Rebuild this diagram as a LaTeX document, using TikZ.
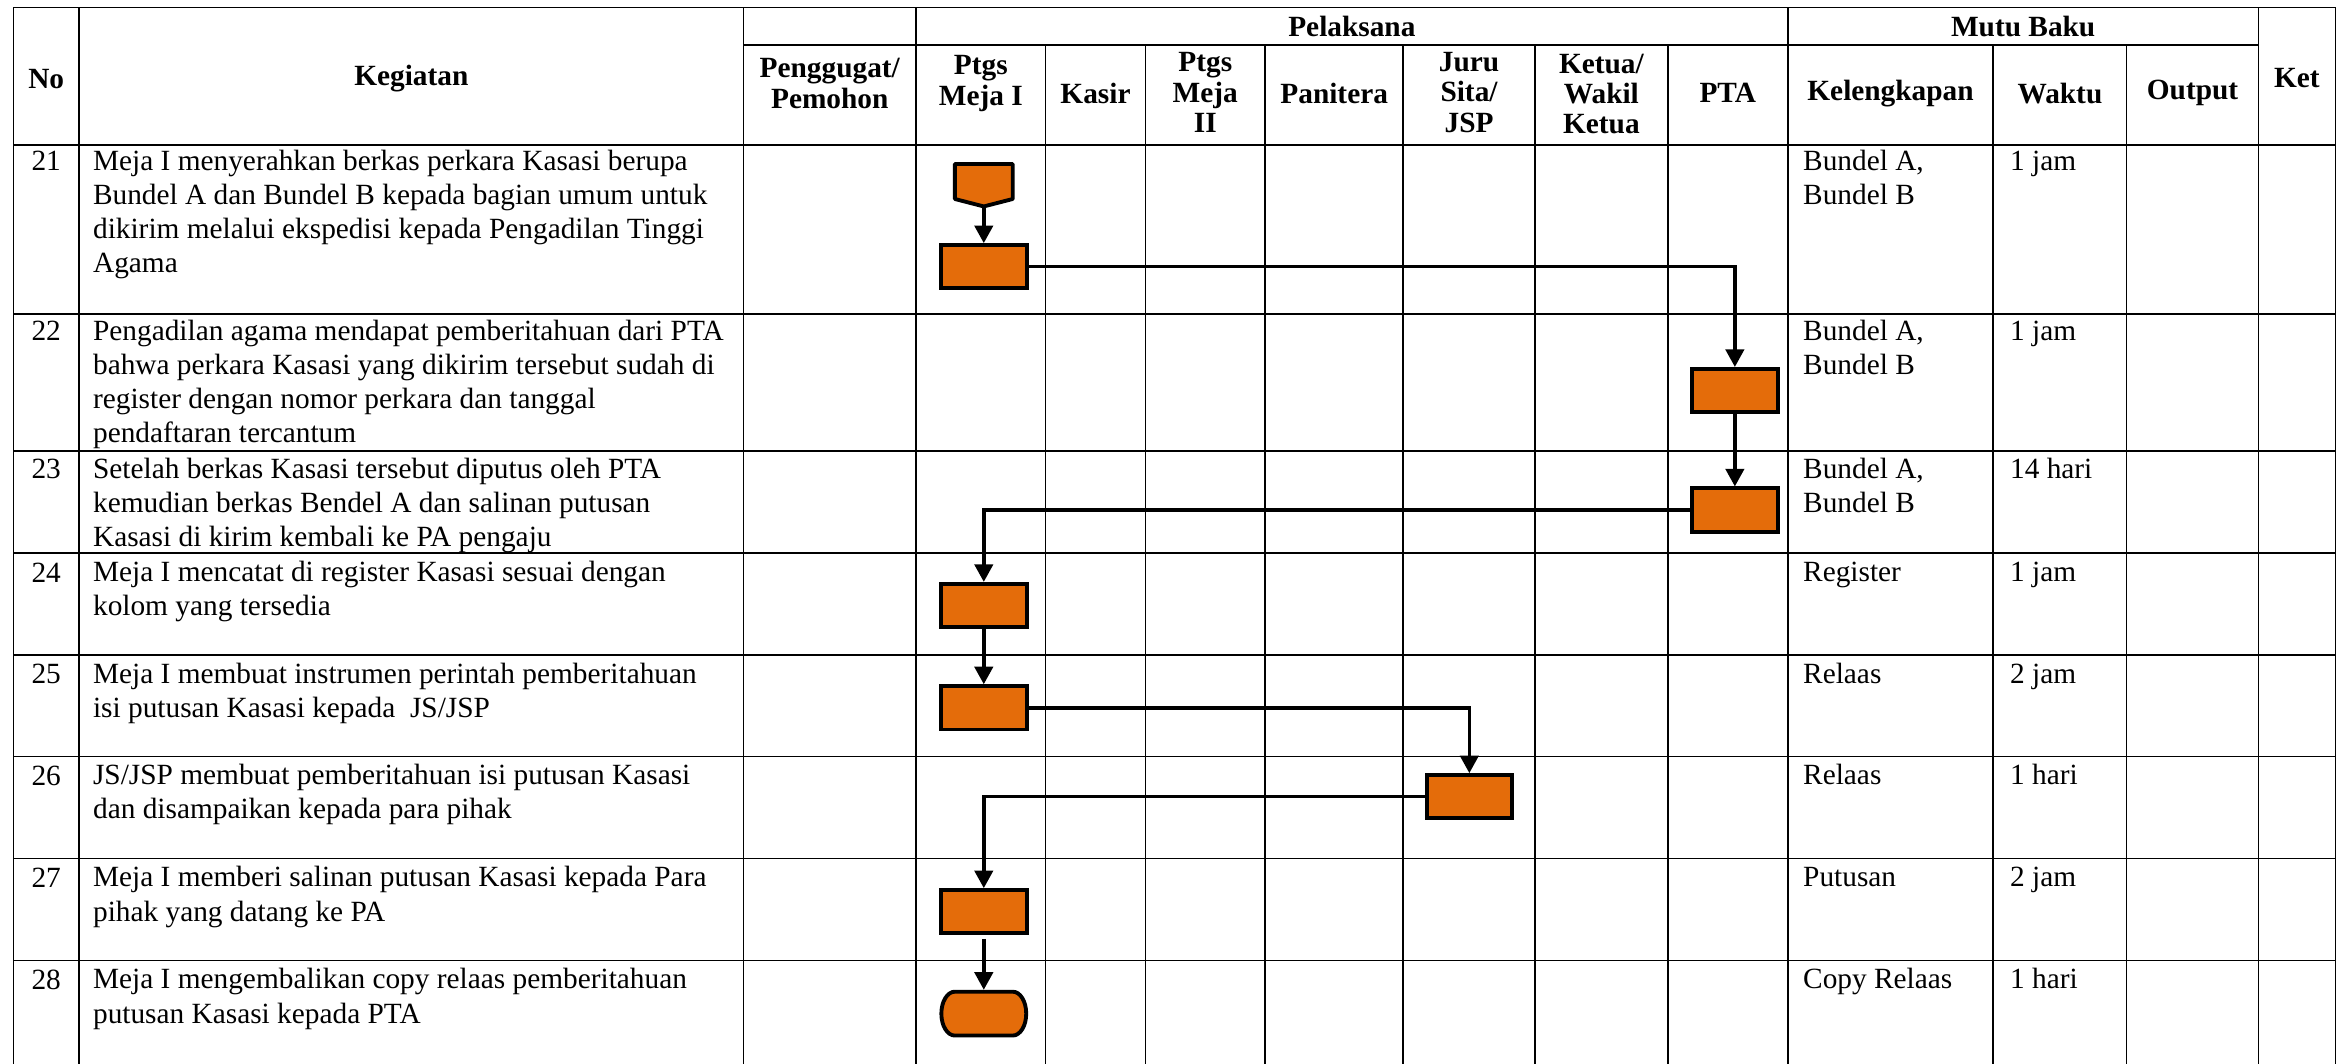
\documentclass[tikz,border=0pt]{standalone}
\usepackage{fontspec}
\setmainfont{Liberation Serif}
\usetikzlibrary{arrows.meta}
\definecolor{boxorange}{RGB}{228,108,10}
\newcommand{\lnstrut}{\rule{0pt}{7pt}}
\begin{document}
\begin{tikzpicture}[x=0.014917cm,y=-0.014917cm,
  gridline/.style={line width=0.45pt, line cap=rect},
  bodytext/.style={font=\fontsize{8.35}{9.69}\selectfont, inner sep=0pt, outer sep=0pt, align=left, anchor=north west},
  numtext/.style={font=\fontsize{8.35}{9.69}\selectfont, inner sep=0pt, anchor=north},
  headtext/.style={font=\fontsize{8.35}{8.6}\selectfont\bfseries, inner sep=0pt, align=center},
  procbox/.style={draw, line width=1.1pt, fill=boxorange, minimum width=0.856cm, minimum height=0.433cm, inner sep=0pt},
  ghost/.style={inner sep=0pt, outer sep=0pt},
  flowarrow/.style={line width=1pt, -{Triangle[length=5pt,width=5.2pt]}},
  shapeline/.style={draw, line width=1.1pt, fill=boxorange},
]
\useasboundingbox (0,0) rectangle (1568,713);

% ---------- grid ----------
\foreach \y in {5,97.2,210.5,302.3,370.8,439,507,575.6,644}
  \draw[gridline] (9,\y) -- (1565.5,\y);
\draw[gridline] (498.5,30) -- (1514,30);
\foreach \x in {9,53,498.5,614,1198.5,1514,1565.5}
  \draw[gridline] (\x,5) -- (\x,713);
\foreach \x in {701,767.8,848.2,940.6,1029,1118,1336.2,1425.6}
  \draw[gridline] (\x,30) -- (\x,713);

% ---------- header ----------
\node[headtext] (hNo) at (31,53) {No};
\node[headtext] (hKeg) at (275.75,53) {Kegiatan};
\node[headtext] (hPel) at (906.25,17.5) {Pelaksana};
\node[headtext] (hMutu) at (1356.25,17.5) {Mutu Baku};
\node[headtext] (hKet) at (1539.75,52) {Ket};
\node[headtext] (hPeng) at (556.25,56) {Penggugat/\\Pemohon};
\node[headtext] (hMeja1) at (657.5,56) {Ptgs\\Meja I};
\node[headtext] (hKasir) at (734.4,62.5) {Kasir};
\node[headtext] (hMeja2) at (808,62) {Ptgs\\Meja\\II};
\node[headtext] (hPanit) at (894.4,62.5) {Panitera};
\node[headtext] (hJuru) at (984.8,62) {Juru\\Sita/\\JSP};
\node[headtext] (hKetua) at (1073.5,63) {Ketua/\\Wakil\\Ketua};
\node[headtext] (hPTA) at (1158.25,62.5) {PTA};
\node[headtext] (hKel) at (1267.35,62.5) {Kelengkapan};
\node[headtext] (hWaktu) at (1380.9,62.5) {Waktu};
\node[headtext] (hOut) at (1469.8,62.5) {Output};

% ---------- rows ----------
\node[numtext] (n21) at (31,97.6) {\lnstrut 21};
\node[bodytext] (k21) at (62.4,97.6) {\lnstrut Meja I menyerahkan berkas perkara Kasasi berupa\\Bundel A dan Bundel B kepada bagian umum untuk\\dikirim melalui ekspedisi kepada Pengadilan Tinggi\\Agama};
\node[bodytext] (l21) at (1208.8,97.6) {\lnstrut Bundel A,\\Bundel B};
\node[bodytext] (w21) at (1347.5,97.6) {\lnstrut 1 jam};

\node[numtext] (n22) at (31,211.5) {\lnstrut 22};
\node[bodytext] (k22) at (62.4,211.5) {\lnstrut Pengadilan agama mendapat pemberitahuan dari PTA\\bahwa perkara Kasasi yang dikirim tersebut sudah di\\register dengan nomor perkara dan tanggal\\pendaftaran tercantum};
\node[bodytext] (l22) at (1208.8,211.5) {\lnstrut Bundel A,\\Bundel B};
\node[bodytext] (w22) at (1347.5,211.5) {\lnstrut 1 jam};

\node[numtext] (n23) at (31,304) {\lnstrut 23};
\node[bodytext] (k23) at (62.4,304) {\lnstrut Setelah berkas Kasasi tersebut diputus oleh PTA\\kemudian berkas Bendel A dan salinan putusan\\Kasasi di kirim kembali ke PA pengaju};
\node[bodytext] (l23) at (1208.8,304) {\lnstrut Bundel A,\\Bundel B};
\node[bodytext] (w23) at (1347.5,304) {\lnstrut 14 hari};

\node[numtext] (n24) at (31,373.3) {\lnstrut 24};
\node[bodytext] (k24) at (62.4,373.3) {\lnstrut Meja I mencatat di register Kasasi sesuai dengan\\kolom yang tersedia};
\node[bodytext] (l24) at (1208.8,373.3) {\lnstrut Register};
\node[bodytext] (w24) at (1347.5,373.3) {\lnstrut 1 jam};

\node[numtext] (n25) at (31,441.5) {\lnstrut 25};
\node[bodytext] (k25) at (62.4,441.5) {\lnstrut Meja I membuat instrumen perintah pemberitahuan\\isi putusan Kasasi kepada\ \ JS/JSP};
\node[bodytext] (l25) at (1208.8,441.5) {\lnstrut Relaas};
\node[bodytext] (w25) at (1347.5,441.5) {\lnstrut 2 jam};

\node[numtext] (n26) at (31,509.5) {\lnstrut 26};
\node[bodytext] (k26) at (62.4,509.5) {\lnstrut JS/JSP membuat pemberitahuan isi putusan Kasasi\\dan disampaikan kepada para pihak};
\node[bodytext] (l26) at (1208.8,509.5) {\lnstrut Relaas};
\node[bodytext] (w26) at (1347.5,509.5) {\lnstrut 1 hari};

\node[numtext] (n27) at (31,578.1) {\lnstrut 27};
\node[bodytext] (k27) at (62.4,578.1) {\lnstrut Meja I memberi salinan putusan Kasasi kepada Para\\pihak yang datang ke PA};
\node[bodytext] (l27) at (1208.8,578.1) {\lnstrut Putusan};
\node[bodytext] (w27) at (1347.5,578.1) {\lnstrut 2 jam};

\node[numtext] (n28) at (31,646.5) {\lnstrut 28};
\node[bodytext] (k28) at (62.4,646.5) {\lnstrut Meja I mengembalikan copy relaas pemberitahuan\\putusan Kasasi kepada PTA};
\node[bodytext] (l28) at (1208.8,646.5) {\lnstrut Copy Relaas};
\node[bodytext] (w28) at (1347.5,646.5) {\lnstrut 1 hari};

% ---------- flow shapes ----------
% off-page connector (pentagon)
\node[ghost, minimum width=0.631cm, minimum height=0.464cm] (P) at (659.5,124.15) {};
\path[shapeline, line join=round] (640.1,109.9) -- (678.9,109.9) -- (678.9,133.4) -- (659.5,138.4) -- (640.1,133.4) -- cycle;

\node[procbox] (A) at (659.5,178.8) {};
\node[procbox] (B) at (1163,261.8) {};
\node[procbox] (C) at (1163,341.9) {};
\node[procbox] (D) at (659.5,405.9) {};
\node[procbox] (E) at (659.5,474.5) {};
\node[procbox] (F) at (985,534.1) {};
\node[procbox] (G) at (659.5,611.2) {};

% terminator
\node[ghost, minimum width=0.888cm, minimum height=0.477cm] (H) at (659.5,679.5) {};
\path[shapeline] (640.05,664.8) -- (678.95,664.8)
  arc[start angle=90, end angle=-90, x radius=0.1343cm, y radius=0.2193cm]
  -- (640.05,694.2)
  arc[start angle=270, end angle=90, x radius=0.1343cm, y radius=0.2193cm]
  -- cycle;

% ---------- connectors ----------
\draw[flowarrow] (P.south) -- (A.north);
\draw[flowarrow] (A.east) -| (B.north);
\draw[flowarrow] (B.south) -- (C.north);
\draw[flowarrow] (C.west) -| (D.north);
\draw[flowarrow] (D.south) -- (E.north);
\draw[flowarrow] (E.east) -| (F.north);
\draw[flowarrow] (F.west) -| (G.north);
\draw[flowarrow] ([yshift=-1pt]G.south) -- (H.north);
\end{tikzpicture}
\end{document}
